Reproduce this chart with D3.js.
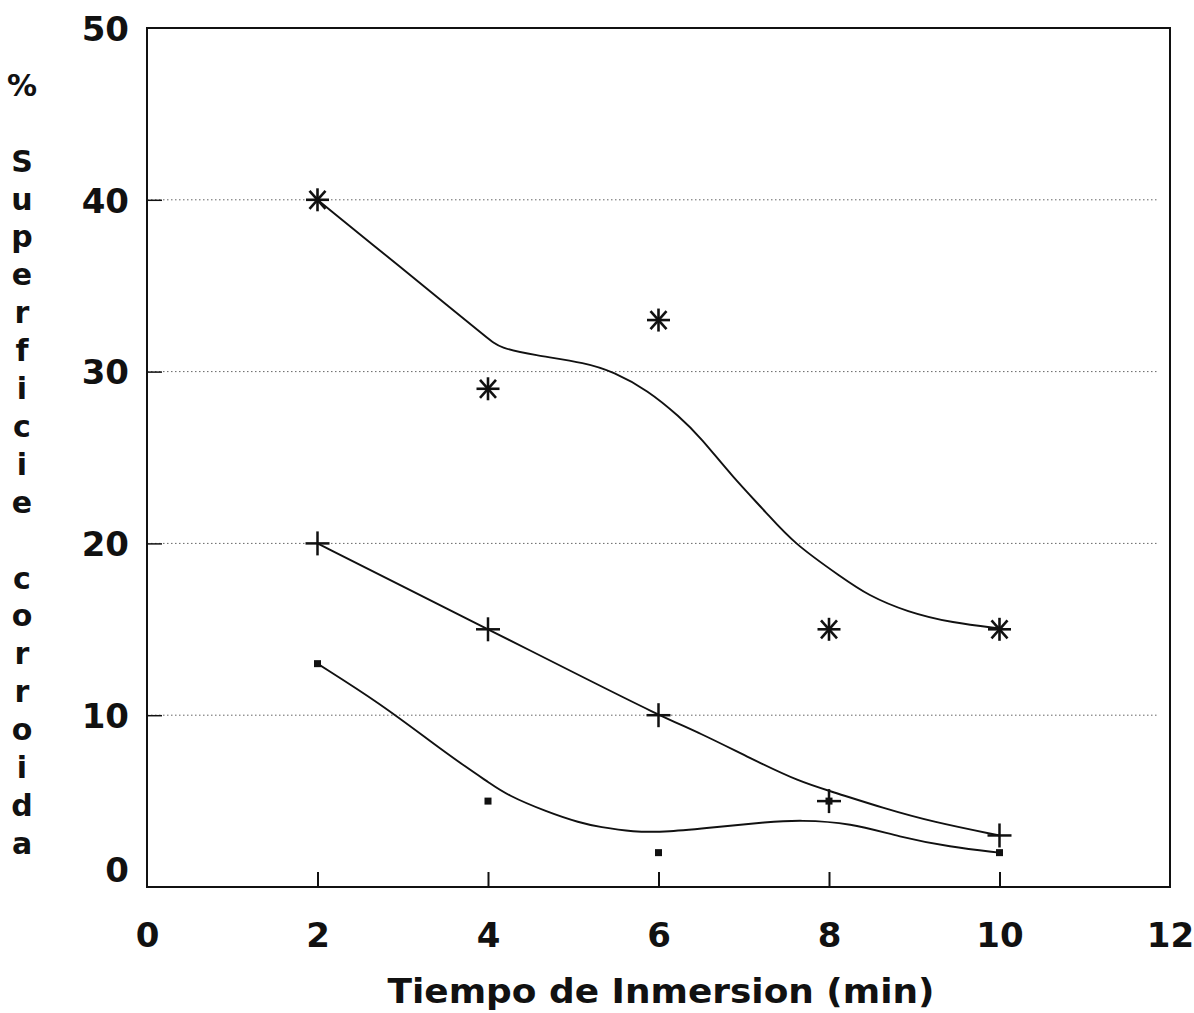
<!DOCTYPE html>
<html>
<head>
<meta charset="utf-8">
<script src="https://cdn.jsdelivr.net/npm/d3@7"></script>
<style>
  html, body { margin: 0; padding: 0; background: #fff; }
  svg { display: block; }
  text { font-family: "DejaVu Sans", "Liberation Sans", sans-serif; font-weight: bold; fill: #111; }
</style>
</head>
<body>
<svg id="chart" width="1194" height="1013"></svg>
<script>
// Ticks
const xTicks = [0, 2, 4, 6, 8, 10, 12];
const yTicks = [0, 10, 20, 30, 40, 50];
const gridValues = [10, 20, 30, 40];

// Measured points (immersion time in minutes vs % corroded surface)
const times = [2, 4, 6, 8, 10];
const starVals = [40, 29, 33, 15, 15];
const plusVals = [20, 15, 10, 5, 3];
const dotVals = [13, 5, 2, 5, 2];

// Fitted trend curves: control points along each curve
const starFitX = [2, 3.05, 3.52, 4.0, 4.14, 4.53, 5.16, 5.47, 5.87, 6.25, 6.49, 6.87, 7.27, 7.58, 8.16, 8.45, 8.92, 9.45, 10];
const starFitY = [40, 35.77, 33.87, 31.93, 31.37, 30.97, 30.5, 29.98, 28.93, 27.36, 26.19, 23.86, 21.77, 20.02, 17.99, 17.0, 16.0, 15.37, 15.05];
const plusFitX = [2, 3, 4, 5, 6, 6.49, 7.07, 7.66, 8.05, 8.63, 9.22, 10];
const plusFitY = [20, 17.5, 15, 12.5, 10, 8.96, 7.51, 6.11, 5.53, 4.6, 3.78, 3];
const dotFitX = [2, 2.73, 3.35, 3.75, 4.02, 4.22, 4.69, 5.08, 5.31, 5.7, 6.1, 6.69, 7.27, 7.66, 8.25, 8.83, 9.42, 10];
const dotFitY = [13, 10.7, 8.38, 6.95, 6.05, 5.36, 4.37, 3.73, 3.49, 3.2, 3.2, 3.49, 3.78, 3.9, 3.73, 2.91, 2.33, 2];

// Axis titles
const xTitle = "Tiempo de Inmersion (min)";
const yTitleLines = ["%", "", "S", "u", "p", "e", "r", "f", "i", "c", "i", "e", "", "c", "o", "r", "r", "o", "i", "d", "a"];

const svg = d3.select("#chart");
const plotLeft = 147, plotRight = 1170, plotTop = 28, plotBottom = 887;

const x = d3.scaleLinear().domain([0, 12]).range([plotLeft, plotRight]);
const y = d3.scaleLinear().domain([0, 50]).range([plotBottom, plotTop]);

// dotted gridlines
svg.append("g").selectAll("line").data(gridValues).join("line")
  .attr("x1", plotLeft).attr("x2", x(11.85))
  .attr("y1", d => y(d)).attr("y2", d => y(d))
  .attr("stroke", "#666").attr("stroke-width", 1)
  .attr("stroke-dasharray", "1.5,2.5");

// x axis: inward ticks, labels below
const xAxis = d3.axisBottom(x).tickValues(xTicks).tickSize(-15).tickPadding(36)
  .tickFormat(d3.format("d"));
const gx = svg.append("g").attr("transform", `translate(0,${plotBottom})`).call(xAxis);
gx.select(".domain").remove();
gx.selectAll(".tick line").attr("stroke", "#111").attr("stroke-width", 2)
  .filter(d => d === 0 || d === 12).remove();
gx.selectAll(".tick text").attr("font-size", 34).attr("font-family", "DejaVu Sans")
  .attr("font-weight", "bold").attr("fill", "#111");

// y axis: inward ticks, labels to the left
const yAxis = d3.axisLeft(y).tickValues(yTicks).tickSize(-15).tickPadding(18)
  .tickFormat(d3.format("d"));
const gy = svg.append("g").attr("transform", `translate(${plotLeft},0)`).call(yAxis);
gy.select(".domain").remove();
gy.selectAll(".tick line").attr("stroke", "#111").attr("stroke-width", 1.5)
  .filter(d => d === 0 || d === 50).remove();
gy.selectAll(".tick text").attr("font-size", 34).attr("font-family", "DejaVu Sans")
  .attr("font-weight", "bold").attr("fill", "#111")
  .attr("dy", d => d === 0 ? "-0.15em" : "0.36em");

// plot frame
svg.append("rect")
  .attr("x", plotLeft).attr("y", plotTop)
  .attr("width", plotRight - plotLeft).attr("height", plotBottom - plotTop)
  .attr("fill", "none").attr("stroke", "#111").attr("stroke-width", 2);

// trend curves (smoothed B-spline through the control points)
const line = d3.line().x(d => x(d[0])).y(d => y(d[1])).curve(d3.curveBasis);
[[starFitX, starFitY], [plusFitX, plusFitY], [dotFitX, dotFitY]].forEach(([xs, ys]) => {
  svg.append("path")
    .attr("d", line(d3.zip(xs, ys)))
    .attr("fill", "none").attr("stroke", "#111").attr("stroke-width", 1.9);
});

// asterisk markers
const starG = svg.append("g").attr("stroke", "#111").attr("stroke-width", 2.6);
d3.zip(times, starVals).forEach(([t, v]) => {
  const cx = x(t), cy = y(v);
  const arms = [[11.5, 0], [0, 11.5], [8, 9], [8, -9]];
  arms.forEach(([dx, dy]) => {
    starG.append("line")
      .attr("x1", cx - dx).attr("y1", cy - dy)
      .attr("x2", cx + dx).attr("y2", cy + dy);
  });
});

// plus markers
const plusG = svg.append("g").attr("stroke", "#111").attr("stroke-width", 2.5);
d3.zip(times, plusVals).forEach(([t, v]) => {
  const cx = x(t), cy = y(v);
  plusG.append("line").attr("x1", cx - 12).attr("x2", cx + 12).attr("y1", cy).attr("y2", cy);
  plusG.append("line").attr("x1", cx).attr("x2", cx).attr("y1", cy - 12).attr("y2", cy + 12);
});

// small square markers
svg.append("g").selectAll("rect").data(d3.zip(times, dotVals)).join("rect")
  .attr("x", d => x(d[0]) - 3.5).attr("y", d => y(d[1]) - 3.5)
  .attr("width", 7).attr("height", 7).attr("fill", "#111");

// x axis title
svg.append("text")
  .attr("x", 661).attr("y", 1003)
  .attr("text-anchor", "middle")
  .attr("font-size", 33)
  .attr("textLength", 547).attr("lengthAdjust", "spacingAndGlyphs")
  .text(xTitle);

// stacked y axis title
svg.append("g").selectAll("text").data(yTitleLines).join("text")
  .attr("x", 22)
  .attr("y", (d, i) => 85 + i * 37.9)
  .attr("dy", "0.36em")
  .attr("text-anchor", "middle")
  .attr("font-size", 30)
  .text(d => d);
</script>
</body>
</html>
